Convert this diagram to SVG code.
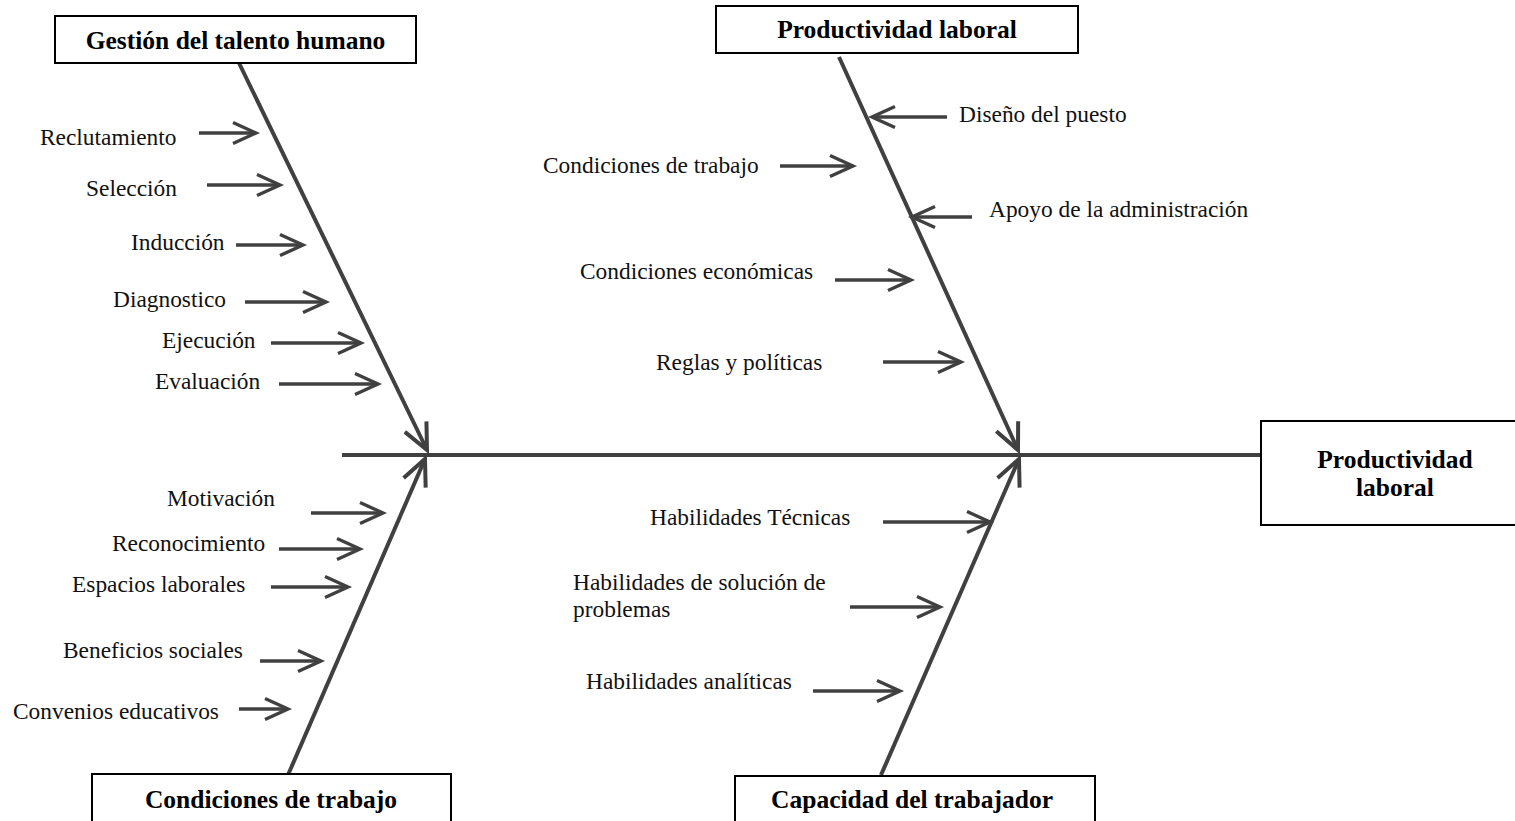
<svg xmlns="http://www.w3.org/2000/svg" width="1515" height="821" viewBox="0 0 1515 821">
<style>
.box{fill:#fff;stroke:#000;stroke-width:2}
.hd{font-family:"Liberation Serif","Times New Roman",serif;font-weight:bold;font-size:25.5px;fill:#000;text-anchor:middle}
.lb{font-family:"Liberation Serif","Times New Roman",serif;font-size:23.4px;fill:#111}
.bone{stroke:#404040;stroke-width:4;fill:none}
.arr{stroke:#404040;stroke-width:3.4;fill:none;marker-end:url(#ah)}
.big{stroke:#404040;stroke-width:4;fill:none;marker-end:url(#ahb)}
</style>
<defs>
<marker id="ah" markerUnits="userSpaceOnUse" viewBox="-30 -20 40 40" markerWidth="40" markerHeight="40" refX="0" refY="0" orient="auto" overflow="visible">
<path d="M-23,-10.5 L0,0 L-23,10.5" fill="none" stroke="#404040" stroke-width="3.4" stroke-linejoin="miter"/>
</marker>
<marker id="ahb" markerUnits="userSpaceOnUse" viewBox="-30 -20 40 40" markerWidth="40" markerHeight="40" refX="0" refY="0" orient="auto" overflow="visible">
<path d="M-26,-12 L0,0 L-26,12" fill="none" stroke="#404040" stroke-width="4" stroke-linejoin="miter"/>
</marker>
</defs>
<rect width="1515" height="821" fill="#fff"/>

<g id="connectors">
<line class="bone" x1="342" y1="455" x2="1262" y2="455"/>
<line class="big" x1="239" y1="63" x2="427" y2="450"/>
<line class="big" x1="288" y1="775" x2="425" y2="459"/>
<line class="big" x1="839" y1="57" x2="1018" y2="450"/>
<line class="big" x1="881" y1="775" x2="1019" y2="459"/>

<line class="arr" x1="199" y1="133" x2="256" y2="133"/>
<line class="arr" x1="207" y1="185" x2="280" y2="185"/>
<line class="arr" x1="236" y1="245" x2="303" y2="245"/>
<line class="arr" x1="245" y1="302" x2="326" y2="302"/>
<line class="arr" x1="271" y1="343" x2="361" y2="343"/>
<line class="arr" x1="279" y1="384" x2="378" y2="384"/>

<line class="arr" x1="311" y1="513" x2="383" y2="513"/>
<line class="arr" x1="279" y1="549" x2="360" y2="549"/>
<line class="arr" x1="271" y1="587" x2="348" y2="587"/>
<line class="arr" x1="260" y1="661" x2="321" y2="661"/>
<line class="arr" x1="239" y1="709" x2="288" y2="709"/>

<line class="arr" x1="947" y1="117" x2="872" y2="117"/>
<line class="arr" x1="780" y1="166" x2="853" y2="166"/>
<line class="arr" x1="972" y1="217" x2="912" y2="217"/>
<line class="arr" x1="835" y1="280" x2="911" y2="280"/>
<line class="arr" x1="883" y1="362" x2="961" y2="362"/>

<line class="arr" x1="883" y1="522" x2="990" y2="522"/>
<line class="arr" x1="850" y1="607" x2="940" y2="607"/>
<line class="arr" x1="813" y1="691" x2="900" y2="691"/>
</g>

<g id="node-gestion">
<rect class="box" x="55" y="16" width="361" height="47"/>
<text class="hd" x="235.5" y="49">Gestión del talento humano</text>
</g>
<g id="node-productividad-top">
<rect class="box" x="716" y="6" width="362" height="47"/>
<text class="hd" x="897" y="38">Productividad laboral</text>
</g>
<g id="node-condiciones">
<rect class="box" x="92" y="774" width="359" height="60"/>
<text class="hd" x="271" y="808">Condiciones de trabajo</text>
</g>
<g id="node-capacidad">
<rect class="box" x="735" y="776" width="360" height="60"/>
<text class="hd" x="912" y="808">Capacidad del trabajador</text>
</g>
<g id="node-efecto">
<rect class="box" x="1261" y="421" width="270" height="104"/>
<text class="hd" x="1395" y="468">Productividad</text>
<text class="hd" x="1395" y="496">laboral</text>
</g>

<g id="labels-gestion">
<text class="lb" x="40" y="145">Reclutamiento</text>
<text class="lb" x="86" y="196">Selección</text>
<text class="lb" x="131" y="250">Inducción</text>
<text class="lb" x="113" y="307">Diagnostico</text>
<text class="lb" x="162" y="348">Ejecución</text>
<text class="lb" x="155" y="389">Evaluación</text>
</g>
<g id="labels-condiciones">
<text class="lb" x="167" y="506">Motivación</text>
<text class="lb" x="112" y="551">Reconocimiento</text>
<text class="lb" x="72" y="592">Espacios laborales</text>
<text class="lb" x="63" y="658">Beneficios sociales</text>
<text class="lb" x="13" y="719">Convenios educativos</text>
</g>
<g id="labels-productividad">
<text class="lb" x="959" y="122">Diseño del puesto</text>
<text class="lb" x="543" y="173">Condiciones de trabajo</text>
<text class="lb" x="989" y="217">Apoyo de la administración</text>
<text class="lb" x="580" y="279">Condiciones económicas</text>
<text class="lb" x="656" y="370">Reglas y políticas</text>
</g>
<g id="labels-capacidad">
<text class="lb" x="650" y="525">Habilidades Técnicas</text>
<text class="lb" x="573" y="590">Habilidades de solución de</text>
<text class="lb" x="573" y="617">problemas</text>
<text class="lb" x="586" y="689">Habilidades analíticas</text>
</g>
</svg>
